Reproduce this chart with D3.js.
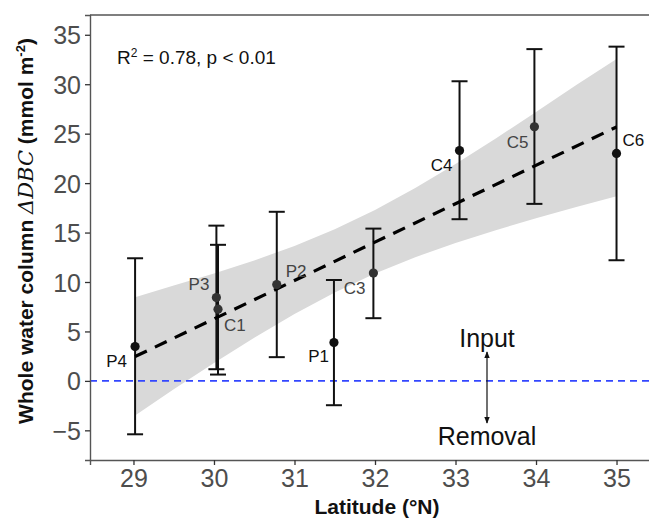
<!DOCTYPE html>
<html><head><meta charset="utf-8">
<script src="https://cdn.jsdelivr.net/npm/d3@7"></script>
<style>body{margin:0;background:#fff}svg{display:block}text{font-family:"Liberation Sans",Arial,sans-serif}</style>
</head><body>
<svg id="c" width="649" height="521"></svg>
<script>
// ---- data ----
const sites = ["P4","P3","C1","P2","P1","C3","C4","C5","C6"];
const lat   = [29.02, 30.03, 30.05, 30.78, 31.49, 31.98, 33.05, 33.98, 35.0];
const dbc   = [3.47, 8.43, 7.25, 9.74, 3.88, 10.9, 23.3, 25.7, 23.0];
const errLo = [-5.4, 1.18, 0.64, 2.4, -2.46, 6.34, 16.35, 17.9, 12.2];
const errHi = [12.4, 15.7, 13.76, 17.1, 10.2, 15.4, 30.3, 33.55, 33.8];
const fitX  = [29.02, 35.0];
const fitY  = [2.46, 25.68];
const bandX  = [29.02, 29.5, 30, 30.5, 31, 31.5, 32, 32.5, 33, 33.5, 34, 34.5, 35];
const bandLo = [-3.5, -0.85, 1.8, 4.36, 6.76, 8.95, 10.86, 12.51, 13.94, 15.24, 16.44, 17.58, 18.68];
const bandHi = [8.45, 9.65, 10.86, 12.18, 13.64, 15.33, 17.28, 19.51, 21.94, 24.52, 27.18, 29.92, 32.55];
const xTicks = [29, 30, 31, 32, 33, 34, 35];
const yTicks = [-5, 0, 5, 10, 15, 20, 25, 30, 35];

// ---- layout ----
const svg = d3.select("#c");
const L = 90, T = 15, R = 660, B = 460;
const x = d3.scaleLinear().domain([28.46, 35.54]).range([L, R]);
const y = d3.scaleLinear().domain([-8.0, 37.0]).range([B, T]);

// label placement (dx, dy from the point, anchor) and tone
const labelPos = {
  P4:[-8, 20,"end"], P3:[-7,-8,"end"], C1:[6,22,"start"], P2:[9,-8,"start"],
  P1:[-5, 19,"end"], C3:[-8,21,"end"], C4:[-7,21,"end"], C5:[-6,21,"end"], C6:[6,-7,"start"]
};
const greyTone = new Set(["P3","C1","P2","C3","C5"]);

// confidence band
const band = bandX.map((d,i)=>({x:d, lo:bandLo[i], hi:bandHi[i]}));
svg.append("path").datum(band)
  .attr("fill","#d9d9d9")
  .attr("d", d3.area().x(d=>x(d.x)).y0(d=>y(d.lo)).y1(d=>y(d.hi)));

// zero reference line
svg.append("line").attr("x1",L).attr("x2",R).attr("y1",y(0)).attr("y2",y(0))
  .attr("stroke","#3347ff").attr("stroke-width",1.6).attr("stroke-dasharray","7,5");

// error bars
const pts = sites.map((s,i)=>({s, x:lat[i], v:dbc[i], lo:errLo[i], hi:errHi[i]}));
const eb = svg.append("g").attr("stroke","#111").attr("stroke-width",2);
pts.forEach(d=>{
  eb.append("line").attr("x1",x(d.x)).attr("x2",x(d.x)).attr("y1",y(d.lo)).attr("y2",y(d.hi));
  [d.lo,d.hi].forEach(v=>eb.append("line").attr("x1",x(d.x)-8).attr("x2",x(d.x)+8).attr("y1",y(v)).attr("y2",y(v)));
});

// fit line
svg.append("path").datum(fitX.map((d,i)=>[d,fitY[i]]))
  .attr("fill","none").attr("stroke","#000").attr("stroke-width",3.2)
  .attr("stroke-dasharray","13,9")
  .attr("d", d3.line().x(d=>x(d[0])).y(d=>y(d[1])));

// points
svg.append("g").selectAll("circle").data(pts).join("circle")
  .attr("cx",d=>x(d.x)).attr("cy",d=>y(d.v)).attr("r",4.6)
  .attr("fill",d=>greyTone.has(d.s)?"#333":"#111");

// point labels
svg.append("g").selectAll("text").data(pts).join("text")
  .attr("x",d=>x(d.x)+labelPos[d.s][0]).attr("y",d=>y(d.v)+labelPos[d.s][1])
  .attr("text-anchor",d=>labelPos[d.s][2])
  .attr("font-size",17).attr("fill",d=>greyTone.has(d.s)?"#444":"#111")
  .text(d=>d.s);

// axes
const ax = svg.append("g").attr("transform",`translate(0,${B})`)
  .call(d3.axisBottom(x).tickValues(xTicks).tickSize(5).tickPadding(4).tickFormat(d3.format("d")));
const ay = svg.append("g").attr("transform",`translate(${L},0)`)
  .call(d3.axisLeft(y).tickValues(yTicks).tickSize(5).tickPadding(4).tickFormat(d=>d<0?"\u2212"+Math.abs(d):d));
[ax,ay].forEach(g=>{
  g.select(".domain").attr("stroke","#555").attr("stroke-width",1.4);
  g.selectAll(".tick line").attr("stroke","#333").attr("stroke-width",1.3);
  g.selectAll(".tick text").attr("font-size",25).attr("fill","#4d4d4d").attr("font-family","Liberation Sans, Arial, sans-serif");
});
ay.selectAll(".tick text").attr("dy","0.36em");
// top border
svg.append("line").attr("x1",L).attr("x2",R).attr("y1",T).attr("y2",T).attr("stroke","#555").attr("stroke-width",1.4);

// annotations
svg.append("text").attr("x",117).attr("y",64).attr("font-size",19).attr("fill","#111")
  .html('R<tspan dy="-7" font-size="12">2</tspan><tspan dy="7"> = 0.78, p &lt; 0.01</tspan>');
svg.append("text").attr("x",487).attr("y",347).attr("text-anchor","middle").attr("font-size",25).attr("fill","#111").text("Input");
svg.append("text").attr("x",487).attr("y",445).attr("text-anchor","middle").attr("font-size",25).attr("fill","#111").text("Removal");
const defs = svg.append("defs");
defs.append("marker").attr("id","ah").attr("viewBox","0 0 10 10").attr("refX",9).attr("refY",5)
  .attr("markerWidth",6).attr("markerHeight",6).attr("orient","auto-start-reverse")
  .append("path").attr("d","M0,1 L10,5 L0,9 Z").attr("fill","#111");
svg.append("line").attr("x1",487).attr("x2",487).attr("y1",352).attr("y2",423)
  .attr("stroke","#111").attr("stroke-width",1.2)
  .attr("marker-start","url(#ah)").attr("marker-end","url(#ah)");

// axis titles
svg.append("text").attr("x",377).attr("y",514).attr("text-anchor","middle")
  .attr("font-size",21).attr("font-weight","bold").attr("fill","#111").text("Latitude (\u00B0N)");
const yt = svg.append("text").attr("transform","translate(33,231) rotate(-90)")
  .attr("text-anchor","middle").attr("font-size",21).attr("font-weight","bold").attr("fill","#111");
yt.append("tspan").text("Whole water column ");
yt.append("tspan").attr("font-family","DejaVu Serif, serif").attr("font-style","italic").attr("font-weight","normal").attr("font-size",21).text("\u0394DBC");
yt.append("tspan").text(" (mmol m");
yt.append("tspan").attr("dy",-8).attr("font-size",13).text("-2");
yt.append("tspan").attr("dy",8).text(")");
</script>
</body></html>
